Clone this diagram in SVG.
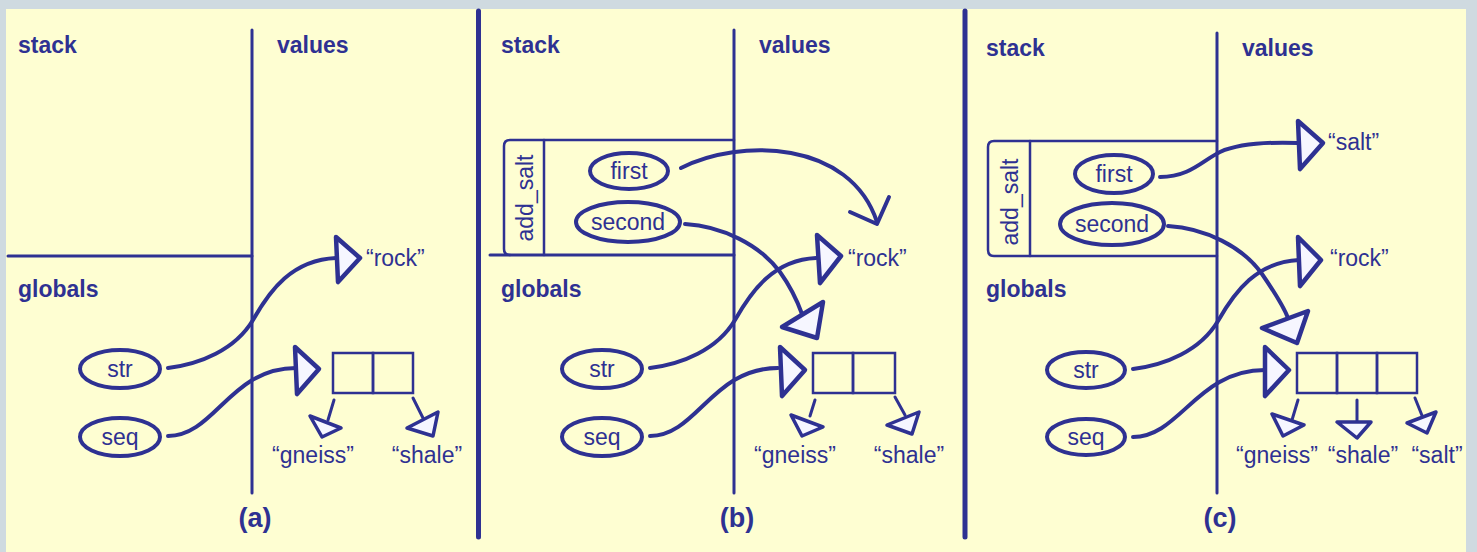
<svg xmlns="http://www.w3.org/2000/svg" width="1477" height="552" viewBox="0 0 1477 552">
  <style>
    .ink { stroke: #2e3192; fill: none; stroke-linecap: round; stroke-linejoin: round; }
    .thick { stroke-width: 5; }
    .rule { stroke-width: 3; }
    .frame { stroke-width: 2.5; }
    .oval { stroke-width: 4; fill: none; }
    .wire { stroke-width: 4; }
    .tip { stroke: #2e3192; stroke-width: 4.5; fill: #f6f6ff; stroke-linejoin: round; }
    .tip-s { stroke: #2e3192; stroke-width: 3.5; fill: #f6f6ff; stroke-linejoin: round; }
    .stem { stroke-width: 3; }
    .cell { stroke: #2e3192; stroke-width: 2.5; fill: none; }
    .hd { font-family: "Liberation Sans", Arial, sans-serif; font-weight: bold; font-size: 23px; fill: #2e3192; }
    .cap { font-family: "Liberation Sans", Arial, sans-serif; font-weight: bold; font-size: 27px; fill: #2e3192; text-anchor: middle; }
    .lb { font-family: "Liberation Sans", Arial, sans-serif; font-size: 23px; fill: #2e3192; }
    .mid { text-anchor: middle; }
  </style>

  <!-- paper -->
  <rect x="0" y="0" width="1477" height="552" fill="#cfdae0"/>
  <rect x="6" y="9" width="1460" height="543" fill="#fefed2"/>

  <!-- heavy separators between the three states -->
  <g id="separators">
    <line class="ink thick" x1="478.5" y1="11" x2="478.5" y2="537"/>
    <line class="ink thick" x1="965" y1="11" x2="965" y2="537"/>
  </g>

  <!-- ===== state (a) ===== -->
  <g id="panel-a">
    <g id="a-regions">
      <text class="hd" x="18" y="53">stack</text>
      <text class="hd" x="277" y="53">values</text>
      <text class="hd" x="18" y="297">globals</text>
      <line class="ink rule" x1="252" y1="30" x2="252" y2="493"/>
      <line class="ink rule" x1="8" y1="256" x2="252" y2="256"/>
      <text class="cap" x="255" y="527">(a)</text>
    </g>
    <g id="a-str">
      <ellipse class="ink oval" cx="120" cy="369" rx="40" ry="19"/>
      <text class="lb mid" x="120" y="377">str</text>
    </g>
    <g id="a-seq">
      <ellipse class="ink oval" cx="120" cy="437" rx="40" ry="19"/>
      <text class="lb mid" x="120" y="445">seq</text>
    </g>
    <g id="a-rock">
      <text class="lb" x="366" y="266">“rock”</text>
    </g>
    <g id="a-list">
      <rect class="cell" x="333" y="353" width="40" height="40"/>
      <rect class="cell" x="373" y="353" width="40" height="40"/>
    </g>
    <g id="a-gneiss">
      <text class="lb mid" x="313" y="463">“gneiss”</text>
    </g>
    <g id="a-shale">
      <text class="lb mid" x="427" y="463">“shale”</text>
    </g>
  </g>

  <!-- ===== state (b) ===== -->
  <g id="panel-b" transform="translate(482,0)">
    <g id="b-regions">
      <text class="hd" x="19" y="53">stack</text>
      <text class="hd" x="277" y="53">values</text>
      <text class="hd" x="19" y="297">globals</text>
      <line class="ink rule" x1="252" y1="30" x2="252" y2="493"/>
      <text class="cap" x="255" y="527">(b)</text>
    </g>
    <g id="b-frame">
      <path class="ink frame" d="M252,140 H28 Q22,140 22,146 V249 Q22,255 28,255"/>
      <line class="ink rule" x1="8" y1="255" x2="252" y2="255"/>
      <line class="ink frame" x1="62" y1="140" x2="62" y2="255"/>
      <text class="lb mid" transform="translate(51,198) rotate(-90)" x="0" y="0">add_salt</text>
    </g>
    <g id="b-first">
      <ellipse class="ink oval" cx="147" cy="171" rx="39" ry="18"/>
      <text class="lb mid" x="147" y="179">first</text>
    </g>
    <g id="b-second">
      <ellipse class="ink oval" cx="146" cy="222" rx="52" ry="20"/>
      <text class="lb mid" x="146" y="230">second</text>
    </g>
    <g id="b-str">
      <ellipse class="ink oval" cx="120" cy="369" rx="40" ry="19"/>
      <text class="lb mid" x="120" y="377">str</text>
    </g>
    <g id="b-seq">
      <ellipse class="ink oval" cx="120" cy="437" rx="40" ry="19"/>
      <text class="lb mid" x="120" y="445">seq</text>
    </g>
    <g id="b-rock">
      <text class="lb" x="366" y="266">“rock”</text>
    </g>
    <g id="b-list">
      <rect class="cell" x="331" y="353" width="40" height="40"/>
      <rect class="cell" x="371" y="353" width="42" height="40"/>
    </g>
    <g id="b-gneiss">
      <text class="lb mid" x="313" y="463">“gneiss”</text>
    </g>
    <g id="b-shale">
      <text class="lb mid" x="427" y="463">“shale”</text>
    </g>
  </g>

  <!-- ===== state (c) ===== -->
  <g id="panel-c" transform="translate(965,0)">
    <g id="c-regions">
      <text class="hd" x="21" y="56">stack</text>
      <text class="hd" x="277" y="56">values</text>
      <text class="hd" x="21" y="297">globals</text>
      <line class="ink rule" x1="252" y1="33" x2="252" y2="493"/>
      <text class="cap" x="255" y="527">(c)</text>
    </g>
    <g id="c-frame">
      <path class="ink frame" d="M252,141 H29 Q23,141 23,147 V250 Q23,256 29,256 H252"/>
      <line class="ink frame" x1="65" y1="141" x2="65" y2="256"/>
      <text class="lb mid" transform="translate(53,202) rotate(-90)" x="0" y="0">add_salt</text>
    </g>
    <g id="c-first">
      <ellipse class="ink oval" cx="149" cy="174" rx="39" ry="19"/>
      <text class="lb mid" x="149" y="182">first</text>
    </g>
    <g id="c-second">
      <ellipse class="ink oval" cx="147" cy="224" rx="52" ry="21"/>
      <text class="lb mid" x="147" y="232">second</text>
    </g>
    <g id="c-str">
      <ellipse class="ink oval" cx="121" cy="370" rx="39" ry="18"/>
      <text class="lb mid" x="121" y="378">str</text>
    </g>
    <g id="c-seq">
      <ellipse class="ink oval" cx="121" cy="437" rx="39" ry="18"/>
      <text class="lb mid" x="121" y="445">seq</text>
    </g>
    <g id="c-salt-top">
      <text class="lb" x="363" y="150">“salt”</text>
    </g>
    <g id="c-rock">
      <text class="lb" x="365" y="266">“rock”</text>
    </g>
    <g id="c-list">
      <rect class="cell" x="332" y="353" width="40" height="40"/>
      <rect class="cell" x="372" y="353" width="40" height="40"/>
      <rect class="cell" x="412" y="353" width="40" height="40"/>
    </g>
    <g id="c-gneiss">
      <text class="lb mid" x="312" y="463">“gneiss”</text>
    </g>
    <g id="c-shale">
      <text class="lb mid" x="398" y="463">“shale”</text>
    </g>
    <g id="c-salt">
      <text class="lb mid" x="472" y="463">“salt”</text>
    </g>
  </g>

  <!-- ===== references ===== -->
  <g id="connectors">
    <g id="links-a">
      <path class="ink wire" d="M168,368 C200,364 235,350 253,320 C270,290 292,260 336,258"/>
      <polygon class="tip" points="336,237 360,258 338,282"/>
      <path class="ink wire" d="M168,436 C215,436 230,368 296,368"/>
      <polygon class="tip" points="295,347 319,369 297,394"/>
      <path class="ink stem" d="M334,400 L328,420"/>
      <polygon class="tip-s" points="310,416 341,428 322,437"/>
      <path class="ink stem" d="M413,398 L423,418"/>
      <polygon class="tip-s" points="407,428 438,412 433,436"/>
    </g>
    <g id="links-b" transform="translate(482,0)">
      <path class="ink wire" d="M199,168 C258,138 368,140 395,222"/>
      <polyline class="ink wire" points="368,212 395,224 407,197"/>
      <path class="ink wire" d="M203,224 C240,226 278,245 298,272 C308,286 315,300 320,314"/>
      <polygon class="tip" points="341,302 335,338 300,327"/>
      <path class="ink wire" d="M168,368 C200,364 235,350 253,320 C270,290 292,260 334,258"/>
      <polygon class="tip" points="335,235 359,256 338,283"/>
      <path class="ink wire" d="M168,436 C215,436 230,368 296,368"/>
      <polygon class="tip" points="298,347 323,370 300,396"/>
      <path class="ink stem" d="M333,400 L328,416"/>
      <polygon class="tip-s" points="309,415 341,427 320,436"/>
      <path class="ink stem" d="M413,397 L423,415"/>
      <polygon class="tip-s" points="405,425 437,412 430,434"/>
    </g>
    <g id="links-c" transform="translate(965,0)">
      <path class="ink wire" d="M195,177 C225,177 238,160 255,152 C275,143 305,142 333,143"/>
      <polygon class="tip" points="333,121 358,143 335,169"/>
      <path class="ink wire" d="M203,226 C240,228 278,247 297,274 C308,290 318,305 323,318"/>
      <polygon class="tip" points="343,311 332,343 297,328"/>
      <path class="ink wire" d="M168,369 C200,365 235,351 253,321 C270,291 292,262 334,260"/>
      <polygon class="tip" points="333,237 356,260 335,286"/>
      <path class="ink wire" d="M168,437 C215,437 232,370 300,370"/>
      <polygon class="tip" points="300,347 324,370 300,396"/>
      <path class="ink stem" d="M333,400 L327,420"/>
      <polygon class="tip-s" points="307,414 339,425 318,436"/>
      <path class="ink stem" d="M392,400 L392,424"/>
      <polygon class="tip-s" points="372,422 406,422 392,438"/>
      <path class="ink stem" d="M450,398 L458,418"/>
      <polygon class="tip-s" points="442,423 471,412 462,433"/>
    </g>
  </g>
</svg>
